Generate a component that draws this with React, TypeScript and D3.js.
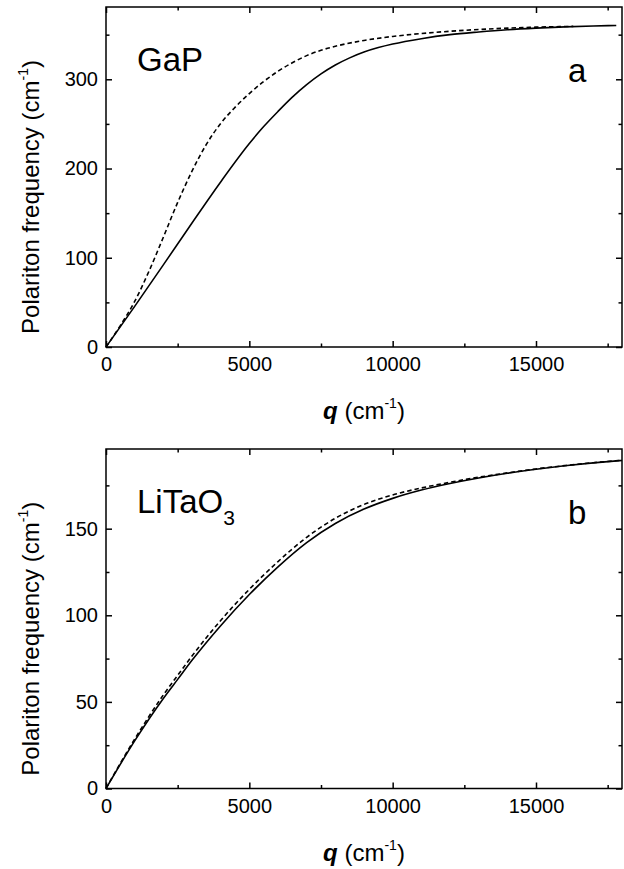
import React, { useEffect, useRef } from 'react';
import * as d3 from 'd3';

// x ticks shared by both panels
const xMajor = [0, 5000, 10000, 15000];
const xMinor = [2500, 7500, 12500, 17500];

// panel a: GaP
const gapSolidQ = [0, 1000, 2000, 3000, 4000, 5000, 5500, 6000, 6500, 7000, 7500, 8000, 8500, 9000, 9500, 10000, 11000, 12000, 13000, 14000, 15000, 16000, 17000, 17800];
const gapSolid = [0, 45.5, 92, 139, 185, 228, 247, 264, 280, 294, 306, 316, 324, 330.5, 335.5, 339.5, 345.5, 350, 353, 355.5, 357.3, 358.7, 359.7, 360.3];
const gapDashQ = [0, 500, 1000, 1500, 2000, 2500, 3000, 3500, 4000, 4500, 5000, 5500, 6000, 6500, 7000, 7500, 8000, 9000, 10000, 11000, 12000, 13000, 14000, 15000, 16300];
const gapDash = [0, 24, 51, 85, 123, 162, 197, 227, 250.5, 268.5, 284, 297.5, 309, 318.5, 326.5, 332.5, 337, 343.5, 348, 351.3, 353.8, 355.8, 357.3, 358.4, 359.3];
const gapYMajor = [0, 100, 200, 300];
const gapYMinor = [50, 150, 250, 350];

// panel b: LiTaO3
const ltQ = [0, 1000, 2000, 2500, 3000, 4000, 5000, 6000, 7000, 8000, 9000, 10000, 11000, 12000, 13000, 14000, 15000, 16000, 17000, 18000];
const ltSolid = [0, 27.5, 52, 63, 74, 94, 112, 128, 142, 153, 161.3, 167.5, 172.3, 176.1, 179.3, 182, 184.3, 186.3, 188, 189.4];
const ltDash = [0, 28.5, 54, 65.3, 76.5, 97, 115, 131, 145, 156, 164, 169.5, 173.5, 176.8, 179.7, 182.2, 184.5, 186.4, 188.1, 189.5];
const ltYMajor = [0, 50, 100, 150];
const ltYMinor = [25, 75, 125, 175];

const FONT = '"Liberation Sans", Arial, Helvetica, sans-serif';
const left = 106, right = 622;

function drawPanel(svg, p) {
  const x = d3.scaleLinear().domain([0, 18000]).range([left, right]);
  const y = d3.scaleLinear().domain([0, p.yMax]).range([p.bottom, p.top]);
  const g = svg.append('g');

  const ax = (axis, pos, vals, size, labels, pad) => {
    const a = g.append('g')
      .attr('transform', pos)
      .call(axis.tickValues(vals).tickSize(-size).tickPadding(pad || 0)
        .tickFormat(labels ? d3.format('d') : () => ''));
    a.select('.domain').remove();
    a.selectAll('line').attr('stroke', '#000').attr('stroke-width', 1.5);
    a.selectAll('text').attr('font-family', FONT).attr('font-size', 20).attr('fill', '#000');
  };

  ax(d3.axisBottom(x), `translate(0,${p.bottom})`, xMajor, 6, true, 10);
  ax(d3.axisBottom(x), `translate(0,${p.bottom})`, xMinor, 3.5, false);
  ax(d3.axisTop(x), `translate(0,${p.top})`, xMajor, 6, false);
  ax(d3.axisTop(x), `translate(0,${p.top})`, xMinor, 3.5, false);
  ax(d3.axisLeft(y), `translate(${left},0)`, p.yMajor, 6, true, 8);
  ax(d3.axisLeft(y), `translate(${left},0)`, p.yMinor, 3.5, false);
  ax(d3.axisRight(y), `translate(${right},0)`, p.yMajor, 6, false);
  ax(d3.axisRight(y), `translate(${right},0)`, p.yMinor, 3.5, false);

  // frame
  g.append('rect')
    .attr('x', left).attr('y', p.top)
    .attr('width', right - left).attr('height', p.bottom - p.top)
    .attr('fill', 'none').attr('stroke', '#000').attr('stroke-width', 1.5);

  const line = d3.line().x(d => x(d[0])).y(d => y(d[1])).curve(d3.curveMonotoneX);

  g.append('path')
    .attr('d', line(d3.zip(p.solidQ, p.solid)))
    .attr('fill', 'none').attr('stroke', '#000').attr('stroke-width', 1.6);
  g.append('path')
    .attr('d', line(d3.zip(p.dashQ, p.dash)))
    .attr('fill', 'none').attr('stroke', '#000').attr('stroke-width', 1.6)
    .attr('stroke-dasharray', '4.5,3');

  // material label
  const m = g.append('text').attr('x', 137).attr('y', p.top + 64)
    .attr('font-family', FONT).attr('font-size', 33);
  m.append('tspan').text(p.name);
  if (p.sub) m.append('tspan').attr('font-size', 21).attr('dy', 12).text(p.sub);

  g.append('text').attr('x', right - 54).attr('y', p.top + 75)
    .attr('font-family', FONT).attr('font-size', 33).text(p.letter);

  // x label
  const xl = g.append('text')
    .attr('x', (left + right) / 2).attr('y', p.bottom + 72)
    .attr('text-anchor', 'middle')
    .attr('font-family', FONT).attr('font-size', 24);
  xl.append('tspan').attr('font-style', 'italic').attr('font-weight', 'bold').text('q');
  xl.append('tspan').text(' (cm');
  xl.append('tspan').attr('font-size', 14).attr('dy', -11).text('-1');
  xl.append('tspan').attr('dy', 11).text(')');

  // y label
  const cy = (p.top + p.bottom) / 2 + 20;
  const yl = g.append('text')
    .attr('transform', `translate(39,${cy}) rotate(-90)`)
    .attr('text-anchor', 'middle')
    .attr('font-family', FONT).attr('font-size', 24);
  yl.append('tspan').text('Polariton frequency (cm');
  yl.append('tspan').attr('font-size', 14).attr('dy', -11).text('-1');
  yl.append('tspan').attr('dy', 11).text(')');
}

export default function App() {
  const ref = useRef(null);

  useEffect(() => {
    const svg = d3.select(ref.current);
    svg.selectAll('*').remove();
    drawPanel(svg, {
      top: 7, bottom: 347, yMax: 381,
      yMajor: gapYMajor, yMinor: gapYMinor,
      solidQ: gapSolidQ, solid: gapSolid, dashQ: gapDashQ, dash: gapDash,
      name: 'GaP', letter: 'a'
    });
    drawPanel(svg, {
      top: 449, bottom: 788.5, yMax: 196,
      yMajor: ltYMajor, yMinor: ltYMinor,
      solidQ: ltQ, solid: ltSolid, dashQ: ltQ, dash: ltDash,
      name: 'LiTaO', sub: '3', letter: 'b'
    });
  }, []);

  return (
    <svg ref={ref} width={624} height={869}
      style={{ position: 'absolute', left: 0, top: 0, background: '#fff', display: 'block' }} />
  );
}
